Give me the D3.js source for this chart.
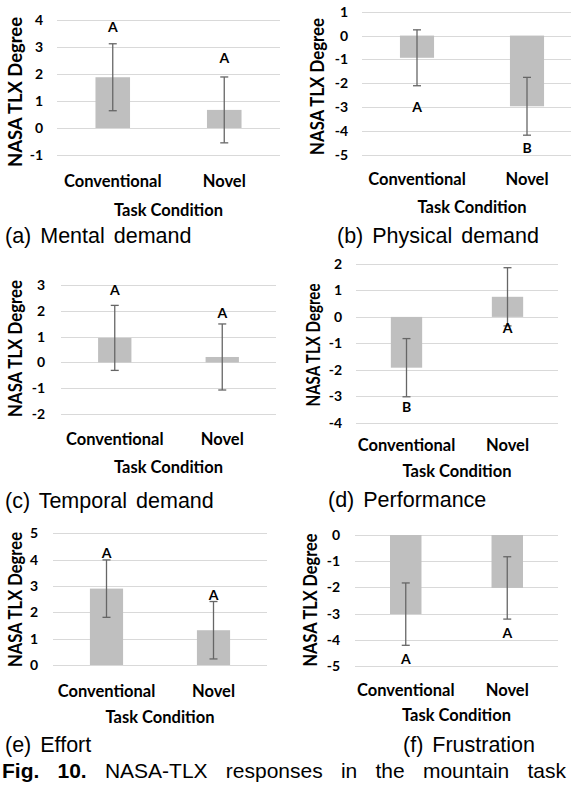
<!DOCTYPE html>
<html>
<head>
<meta charset="utf-8">
<script src="https://cdn.jsdelivr.net/npm/d3@7"></script>
<style>
body { margin:0; background:#fff; }
.grid line { stroke:#d9d9d9; stroke-width:1; shape-rendering:crispEdges; }
.grid path { stroke-width:0; }
.grid text { font-family:Lato, sans-serif; font-weight:bold; font-size:14px; fill:#000; }
</style>
</head>
<body>
<svg id="fig" width="571" height="793"></svg>
<script>
// ---- data ----
var categories = ["Conventional", "Novel"]
var panelLabels = ["(a)", "(b)", "(c)", "(d)", "(e)", "(f)"]
var panelNames = ["Mental demand", "Physical demand", "Temporal demand", "Performance", "Effort", "Frustration"]
var yDomains = [[-1, 4], [-5, 1], [-2, 3], [-4, 2], [0, 5], [-5, 0]]
var means = [[1.88, 0.67], [-0.93, -2.96], [0.95, 0.21], [-1.92, 0.76], [2.90, 1.32], [-3.02, -2.02]]
var errors = [[1.24, 1.22], [1.17, 1.21], [1.26, 1.28], [1.10, 1.10], [1.09, 1.09], [1.19, 1.19]]
var groupLetters = [["A", "A"], ["A", "B"], ["A", "A"], ["B", "A"], ["A", "A"], ["A", "A"]]
var letterAt = [[3.73, 2.61], [-2.98, -4.70], [2.82, 1.93], [-3.39, -0.41], [4.27, 2.65], [-4.75, -3.74]]
var yTitle = "NASA TLX Degree"
var xTitle = "Task Condition"
var figLabel = "Fig. 10."
var figText = "NASA-TLX responses in the mountain task"

// ---- layout of each panel on the page ----
var layout = [
  {x0:57,  x1:280, yTop:20,    yBot:155,   titleX:15,  titleMid:92,    titleLen:150, tickX:43,  catY:187, axisY:216, capX:5,   capY:243},
  {x0:362, x1:582, yTop:11.7,  yBot:155,   titleX:317, titleMid:86.5,  titleLen:137, tickX:348, catY:185, axisY:213, capX:337, capY:243},
  {x0:61,  x1:276, yTop:285,   yBot:414,   titleX:15,  titleMid:348.5, titleLen:137, tickX:45,  catY:445, axisY:473, capX:5,   capY:508},
  {x0:356, x1:558, yTop:264,   yBot:422.7, titleX:313, titleMid:345,   titleLen:123, tickX:342, catY:451, axisY:477, capX:328, capY:507},
  {x0:53,  x1:267, yTop:533.3, yBot:665,   titleX:15,  titleMid:599.5, titleLen:135, tickX:38,  catY:697, axisY:723, capX:5,   capY:752},
  {x0:355, x1:558, yTop:535,   yBot:666,   titleX:310, titleMid:600,   titleLen:133, tickX:340, catY:696, axisY:721, capX:403, capY:752}
]

var svg = d3.select("#fig")
svg.append("rect").attr("width", 571).attr("height", 793).attr("fill", "#fff")

function drawPanel(p)
{
  var L = layout[p]
  var dom = yDomains[p]

  var x = d3.scaleBand()
    .domain(categories)
    .range([L.x0, L.x1])
    .paddingInner(0.69)
    .paddingOuter(0.345)

  var y = d3.scaleLinear()
    .domain([dom[1], dom[0]])
    .range([L.yTop, L.yBot])

  var g = svg.append("g").attr("id", "panel" + p)

  // gridlines + tick labels
  g.append("g")
    .attr("class", "grid")
    .attr("transform", "translate(" + L.x0 + ",0)")
    .call(d3.axisLeft(y)
      .tickValues(d3.range(dom[0], dom[1] + 1))
      .tickSize(-(L.x1 - L.x0))
      .tickPadding(L.x0 - L.tickX)
      .tickFormat(function(d) { return String(d) }))

  var rows = categories.map(function(c, i) {
    return {cat:c, m:means[p][i], e:errors[p][i], letter:groupLetters[p][i], at:letterAt[p][i]}
  })

  g.selectAll(".bar").data(rows).enter().append("rect")
    .attr("class", "bar")
    .attr("x", function(d) { return x(d.cat) })
    .attr("width", x.bandwidth())
    .attr("y", function(d) { return Math.min(y(d.m), y(0)) })
    .attr("height", function(d) { return Math.abs(y(d.m) - y(0)) })
    .attr("fill", "#bfbfbf")

  var cx = function(d) { return x(d.cat) + x.bandwidth() / 2 }
  var err = g.selectAll(".err").data(rows).enter().append("g").attr("class", "err")
    .attr("stroke", "#666").attr("stroke-width", 1.3)
  err.append("line")
    .attr("x1", cx).attr("x2", cx)
    .attr("y1", function(d) { return y(d.m + d.e) })
    .attr("y2", function(d) { return y(d.m - d.e) })
  err.append("line")
    .attr("x1", function(d) { return cx(d) - 4 }).attr("x2", function(d) { return cx(d) + 4 })
    .attr("y1", function(d) { return y(d.m + d.e) }).attr("y2", function(d) { return y(d.m + d.e) })
  err.append("line")
    .attr("x1", function(d) { return cx(d) - 4 }).attr("x2", function(d) { return cx(d) + 4 })
    .attr("y1", function(d) { return y(d.m - d.e) }).attr("y2", function(d) { return y(d.m - d.e) })

  // significance letters
  g.selectAll(".letter").data(rows).enter().append("text")
    .attr("x", cx)
    .attr("y", function(d) { return y(d.at) })
    .attr("dy", "0.36em")
    .attr("text-anchor", "middle")
    .attr("font-family", "Lato, sans-serif")
    .attr("font-weight", "bold")
    .attr("font-size", "14px")
    .text(function(d) { return d.letter })

  // category labels
  g.selectAll(".cat").data(rows).enter().append("text")
    .attr("x", cx)
    .attr("y", L.catY)
    .attr("text-anchor", "middle")
    .attr("font-family", "Lato, sans-serif")
    .attr("font-weight", "bold")
    .attr("font-size", "16.5px")
    .text(function(d) { return d.cat })

  g.append("text")
    .attr("x", (L.x0 + L.x1) / 2)
    .attr("y", L.axisY)
    .attr("text-anchor", "middle")
    .attr("font-family", "Lato, sans-serif")
    .attr("font-weight", "bold")
    .attr("font-size", "16.5px")
    .text(xTitle)

  g.append("text")
    .attr("transform", "translate(" + L.titleX + "," + L.titleMid + ")rotate(-90)")
    .attr("text-anchor", "middle")
    .attr("dominant-baseline", "central")
    .attr("font-family", "Lato, sans-serif")
    .attr("font-weight", "bold")
    .attr("font-size", "18.5px")
    .attr("textLength", L.titleLen)
    .attr("lengthAdjust", "spacingAndGlyphs")
    .text(yTitle)

  // sub caption
  g.append("text")
    .attr("x", L.capX)
    .attr("y", L.capY)
    .attr("font-family", "'Liberation Sans', Arial, sans-serif")
    .attr("font-size", "21.5px")
    .attr("word-spacing", "3px")
    .text(panelLabels[p] + " " + panelNames[p])
}

for (var p = 0; p < layout.length; p++) drawPanel(p)

// justified figure caption line
var words = [{t:figLabel.split(" ")[0], b:true}, {t:figLabel.split(" ")[1], b:true}]
  .concat(figText.split(" ").map(function(w) { return {t:w, b:false} }))
var cap = svg.append("g").attr("font-family", "'Liberation Sans', Arial, sans-serif").attr("font-size", "21px")
var nodes = words.map(function(w) {
  return cap.append("text").attr("y", 778).attr("font-weight", w.b ? "bold" : "normal").text(w.t)
})
var widths = nodes.map(function(n) { return n.node().getComputedTextLength() })
var lineStart = 2, lineEnd = 566
var gap = (lineEnd - lineStart - d3.sum(widths)) / (words.length - 1)
var cur = lineStart
nodes.forEach(function(n, i) { n.attr("x", cur); cur += widths[i] + gap })
</script>
</body>
</html>
